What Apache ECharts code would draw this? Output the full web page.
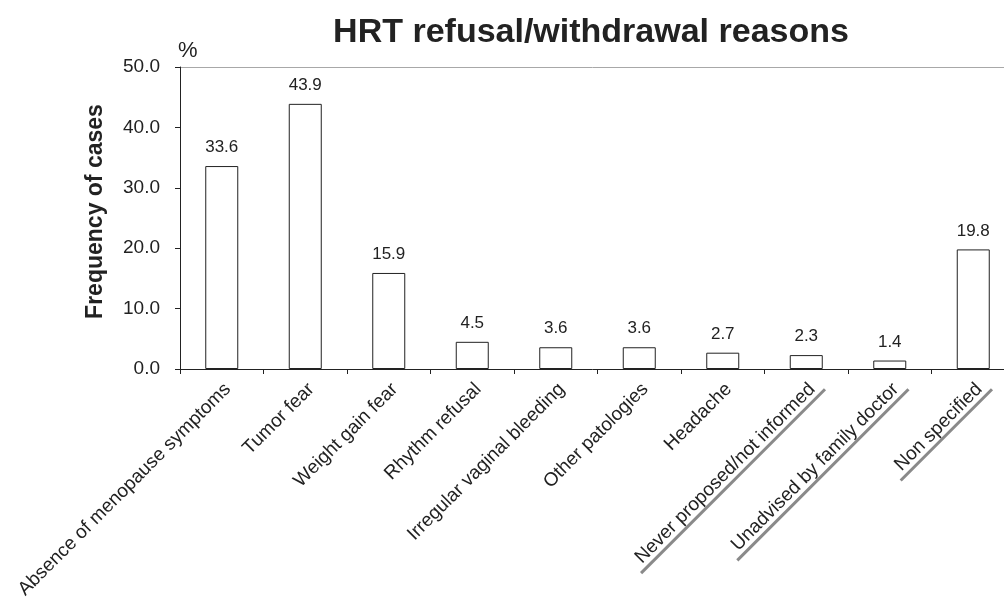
<!DOCTYPE html>
<html>
<head>
<meta charset="utf-8">
<script src="https://cdn.jsdelivr.net/npm/echarts@6/dist/echarts.min.js"></script>
<style>
  html, body { margin: 0; padding: 0; background: #fff; }
  #chart { width: 1004px; height: 600px; }
</style>
</head>
<body>
<div id="chart"></div>
<script>
// categories (reasons) and percentages
const categories = [
  'Absence of menopause symptoms',
  'Tumor fear',
  'Weight gain fear',
  'Rhythm refusal',
  'Irregular vaginal bleeding',
  'Other patologies',
  'Headache',
  'Never proposed/not informed',
  'Unadvised by family doctor',
  'Non specified'
];
const values = [33.6, 43.9, 15.9, 4.5, 3.6, 3.6, 2.7, 2.3, 1.4, 19.8];
const yTicks = [0, 10, 20, 30, 40, 50];
// labels underlined in gray in the original
const underlined = ['Never proposed/not informed', 'Unadvised by family doctor', 'Non specified'];

const FONT = '"Liberation Sans", Arial, sans-serif';
const LABEL_SIZE = 19;

// measure underlined label widths so the gray rule matches the text
const ctx = document.createElement('canvas').getContext('2d');
ctx.font = LABEL_SIZE + 'px ' + FONT;
const rich = {
  t: { fontSize: LABEL_SIZE, fontFamily: FONT, color: '#222', lineHeight: 20 },
  tu: { fontSize: LABEL_SIZE, fontFamily: FONT, color: '#222', lineHeight: 19 },
  e: { width: 7 },          // small overhang of the rule past the text end
  sp: { height: 31 },       // pushes text down-right along the rotation
  sp2: { height: 34 }
};
underlined.forEach((name, i) => {
  rich['u' + i] = {
    width: ctx.measureText(name).width + 14,
    height: 3,
    backgroundColor: '#8a8a8a'
  };
});

const chart = echarts.init(document.getElementById('chart'));
chart.setOption({
  backgroundColor: '#fff',
  animation: false,
  textStyle: { fontFamily: FONT },
  title: [
    {
      text: 'HRT refusal/withdrawal reasons',
      left: 586,
      top: 11,
      textAlign: 'center',
      textStyle: { fontSize: 34, fontWeight: 'bold', color: '#222', fontFamily: FONT }
    },
    {
      text: '%',
      left: 173,
      top: 35,
      textStyle: { fontSize: 22, fontWeight: 'normal', color: '#222', fontFamily: FONT }
    }
  ],
  grid: { left: 180, top: 67, width: 835, height: 302, containLabel: false, outerBoundsMode: 'none' },
  xAxis: {
    type: 'category',
    data: categories,
    axisLine: { lineStyle: { color: '#222', width: 1 } },
    axisTick: { show: true, length: 5, lineStyle: { color: '#222' } },
    axisLabel: {
      interval: 0,
      rotate: 45,
      margin: 1.5,
      formatter: (name) => {
        const i = underlined.indexOf(name);
        if (i < 0) return '{sp|}\n{t|' + name + '}{e|}';
        return '{sp2|}\n{tu|' + name + '}{e|}\n{u' + i + '|}';
      },
      rich: rich
    }
  },
  yAxis: {
    type: 'value',
    min: 0,
    max: 50,
    interval: 10,
    name: 'Frequency of cases',
    nameLocation: 'middle',
    nameRotate: 90,
    nameGap: 73,
    nameTextStyle: { fontSize: 23, fontWeight: 'bold', color: '#222', fontFamily: FONT, padding: [0, 0, 0, 13] },
    axisLine: { show: true, lineStyle: { color: '#222', width: 1 } },
    axisTick: { show: true, length: 5, lineStyle: { color: '#222' } },
    axisLabel: {
      fontSize: 19,
      color: '#222',
      margin: 20,
      formatter: (v) => yTicks.includes(v) ? v.toFixed(1) : ''
    },
    splitLine: {
      show: true,
      lineStyle: { color: ['transparent', 'transparent', 'transparent', 'transparent', 'transparent', '#a8a8a8'], width: 1 }
    }
  },
  series: [
    {
      type: 'bar',
      data: values,
      barWidth: 33,
      itemStyle: { color: '#fff', borderColor: '#222', borderWidth: 1 },
      label: {
        show: true,
        position: 'top',
        distance: 10,
        fontSize: 17,
        color: '#222',
        formatter: (p) => p.value.toFixed(1)
      }
    }
  ]
});
</script>
</body>
</html>
